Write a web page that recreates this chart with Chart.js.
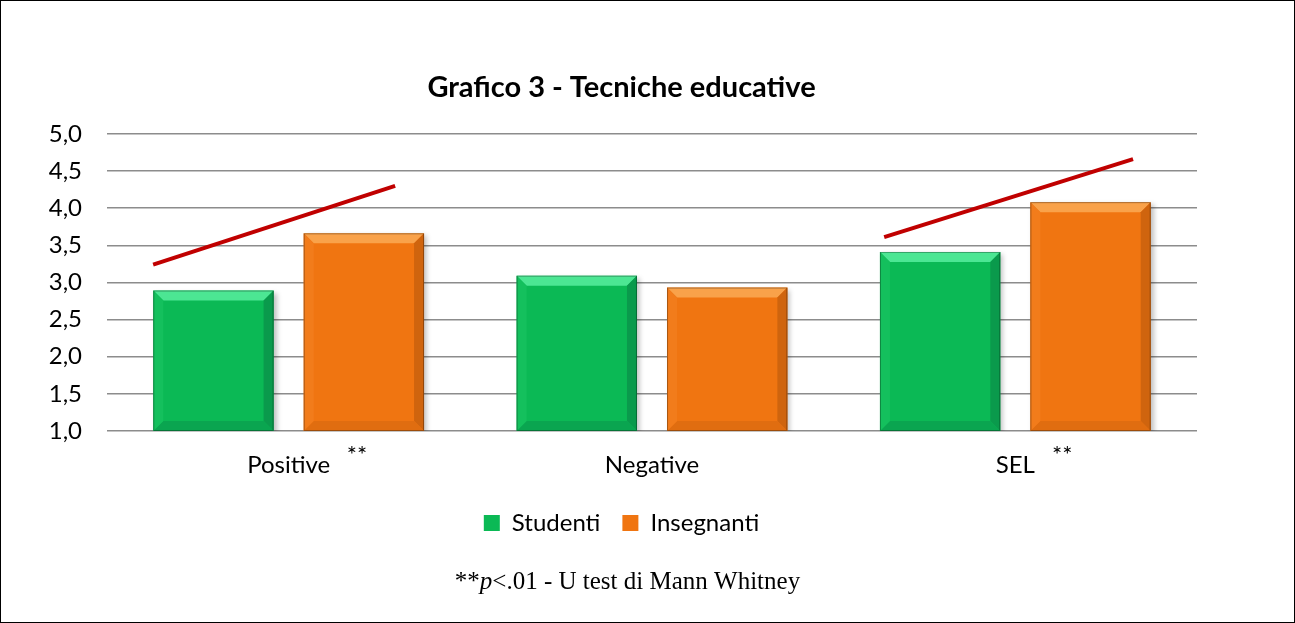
<!DOCTYPE html>
<html>
<head>
    <title>Grafico 3 - Tecniche educative</title>
    <script src="https://cdn.jsdelivr.net/npm/chart.js"></script>
    <style>
        body {
            margin: 0;
            background: #ffffff;
        }

        .chart-container {
            width: 1295px;
            height: 623px;
            position: relative;
        }
    </style>
</head>
<body>
    <div class="chart-container">
        <canvas id="tecniche-chart"></canvas>
    </div>

    <script>
        const categories = ['Positive', 'Negative', 'SEL'];
        const studenti = [2.89, 3.09, 3.41];
        const insegnanti = [3.66, 2.93, 4.08];

        // red trend marks, x in category units (0 = Positive, 1 = Negative, 2 = SEL)
        const trendPositiveX = [-0.373, 0.293];
        const trendPositiveY = [3.24, 4.30];
        const trendSelX = [1.639, 2.324];
        const trendSelY = [3.61, 4.66];

        // "**" marks below the axis
        const starX = [0.188, 2.129];
        const starText = ['**', '**'];

        const yTicks = [1.0, 1.5, 2.0, 2.5, 3.0, 3.5, 4.0, 4.5, 5.0];

        const sansFont = 'Lato, "Open Sans", sans-serif';

        const colors = {
            green: { face: '#0bb955', top: '#4ce693', right: '#0a9a4c', bottom: '#0aa550', left: '#14c05d' },
            orange: { face: '#f07511', top: '#f9a24a', right: '#cf640e', bottom: '#e06d10', left: '#f27c1b' }
        };

        const bevelPlugin = {
            id: 'bevel',
            beforeDatasetDraw(chart, args) {
                const ctx = chart.ctx;
                ctx.save();
                ctx.shadowColor = 'rgba(0,0,0,0.25)';
                ctx.shadowBlur = 5;
                ctx.shadowOffsetX = 3;
                ctx.shadowOffsetY = 2;
            },
            afterDatasetDraw(chart, args) {
                const ctx = chart.ctx;
                ctx.restore();
                const pal = args.index === 0 ? colors.green : colors.orange;
                const b = 10;
                args.meta.data.forEach(bar => {
                    const l = bar.x - bar.width / 2;
                    const r = bar.x + bar.width / 2;
                    const t = bar.y;
                    const bt = Math.min(bar.base, chart.chartArea.bottom);
                    const quad = (pts, col) => {
                        ctx.beginPath();
                        ctx.moveTo(pts[0][0], pts[0][1]);
                        for (let i = 1; i < pts.length; i++) ctx.lineTo(pts[i][0], pts[i][1]);
                        ctx.closePath();
                        ctx.fillStyle = col;
                        ctx.fill();
                    };
                    quad([[l, t], [r, t], [r - b, t + b], [l + b, t + b]], pal.top);
                    quad([[r, t], [r, bt], [r - b, bt - b], [r - b, t + b]], pal.right);
                    quad([[l, bt], [r, bt], [r - b, bt - b], [l + b, bt - b]], pal.bottom);
                    quad([[l, t], [l + b, t + b], [l + b, bt - b], [l, bt]], pal.left);
                    ctx.strokeStyle = 'rgba(0,0,0,0.3)';
                    ctx.lineWidth = 1;
                    ctx.strokeRect(l + 0.5, t + 0.5, bar.width - 1, bt - t - 1);
                });
            }
        };

        const extrasPlugin = {
            id: 'extras',
            afterDatasetsDraw(chart) {
                // red trend lines through the x2 / y scales
                const ctx = chart.ctx;
                const x2 = chart.scales.x2;
                const y = chart.scales.y;
                ctx.save();
                ctx.strokeStyle = '#c00000';
                ctx.lineWidth = 4;
                [[trendPositiveX, trendPositiveY], [trendSelX, trendSelY]].forEach(([xs, ys]) => {
                    ctx.beginPath();
                    xs.forEach((v, i) => {
                        const px = x2.getPixelForValue(v);
                        const py = y.getPixelForValue(ys[i]);
                        if (i === 0) ctx.moveTo(px, py); else ctx.lineTo(px, py);
                    });
                    ctx.stroke();
                });
                ctx.restore();
            },
            afterDraw(chart) {
                const ctx = chart.ctx;
                const x2 = chart.scales.x2;
                const area = chart.chartArea;
                ctx.save();
                // asterisks
                ctx.fillStyle = '#000000';
                ctx.font = '24px ' + sansFont;
                ctx.textAlign = 'center';
                ctx.textBaseline = 'middle';
                starX.forEach((v, i) => {
                    ctx.fillText(starText[i], x2.getPixelForValue(v), area.bottom + 24);
                });
                // footnote
                const y = chart.height - 41;
                const parts = [
                    { t: '**', f: '25px "Liberation Serif", serif' },
                    { t: 'p', f: 'italic 25px "Liberation Serif", serif' },
                    { t: '<.01 - U test di Mann Whitney', f: '25px "Liberation Serif", serif' }
                ];
                let total = 0;
                parts.forEach(p => { ctx.font = p.f; p.w = ctx.measureText(p.t).width; total += p.w; });
                let cx = chart.width / 2 - 20 - total / 2;
                ctx.textAlign = 'left';
                parts.forEach(p => { ctx.font = p.f; ctx.fillText(p.t, cx, y); cx += p.w; });
                // frame
                ctx.strokeStyle = '#000000';
                ctx.lineWidth = 1;
                ctx.strokeRect(0.5, 0.5, chart.width - 1, chart.height - 1);
                ctx.restore();
            }
        };

        const ctx = document.getElementById('tecniche-chart').getContext('2d');
        const chart = new Chart(ctx, {
            type: 'bar',
            data: {
                labels: categories,
                datasets: [
                    {
                        label: 'Studenti',
                        data: studenti,
                        backgroundColor: colors.green.face,
                        borderColor: '#098a45',
                        barPercentage: 0.8,
                        categoryPercentage: 0.828
                    },
                    {
                        label: 'Insegnanti',
                        data: insegnanti,
                        backgroundColor: colors.orange.face,
                        borderColor: '#b0560c',
                        barPercentage: 0.8,
                        categoryPercentage: 0.828
                    }
                ]
            },
            options: {
                responsive: true,
                maintainAspectRatio: false,
                animation: false,
                layout: {
                    padding: { left: 46, right: 98, top: 0, bottom: 78 }
                },
                plugins: {
                    title: {
                        display: true,
                        text: 'Grafico 3 - Tecniche educative',
                        color: '#000000',
                        font: { family: sansFont, size: 29, weight: 'bold' },
                        padding: { top: 70, bottom: 29 }
                    },
                    legend: {
                        display: true,
                        position: 'bottom',
                        labels: {
                            color: '#000000',
                            font: { family: sansFont, size: 24 },
                            boxWidth: 16,
                            boxHeight: 16,
                            padding: 22
                        }
                    },
                    tooltip: { enabled: false }
                },
                scales: {
                    x: {
                        type: 'category',
                        offset: true,
                        grid: { display: false, drawTicks: false },
                        border: { display: false },
                        ticks: {
                            color: '#000000',
                            font: { family: sansFont, size: 24 },
                            padding: 20
                        },
                        afterFit(scale) { scale.height = 58; }
                    },
                    x2: {
                        type: 'linear',
                        display: false,
                        offset: false,
                        min: -0.5,
                        max: 2.5
                    },
                    y: {
                        min: 1,
                        max: 5,
                        afterBuildTicks(scale) {
                            scale.ticks = yTicks.map(v => ({ value: v }));
                        },
                        grid: { color: '#8c8c8c', lineWidth: 1.5, drawTicks: false },
                        border: { display: false },
                        ticks: {
                            color: '#000000',
                            font: { family: sansFont, size: 24 },
                            padding: 25,
                            callback: v => v.toFixed(1).replace('.', ',')
                        },
                        afterFit(scale) { scale.width = 61; }
                    }
                }
            },
            plugins: [bevelPlugin, extrasPlugin]
        });
    </script>
</body>
</html>
